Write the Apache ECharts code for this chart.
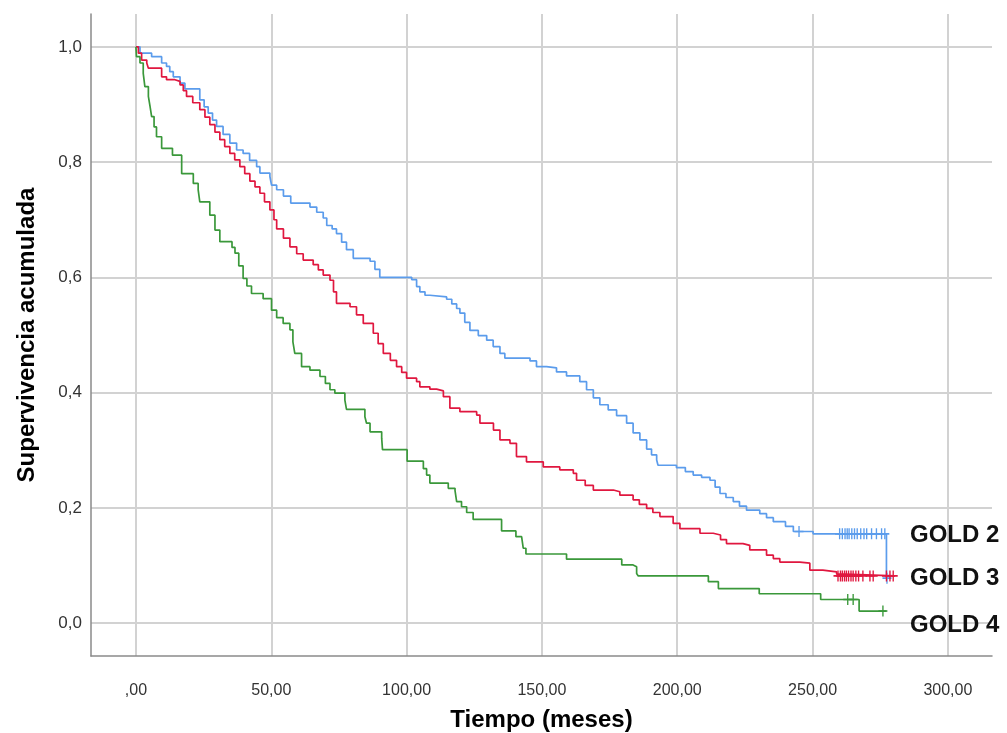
<!DOCTYPE html>
<html>
<head>
<meta charset="utf-8">
<script src="https://cdn.jsdelivr.net/npm/echarts@6/dist/echarts.min.js"></script>
<style>
html,body{margin:0;padding:0;background:#fff;}
#c{width:1007px;height:733px;}
</style>
</head>
<body>
<div id="c"></div>
<script>
// ---- data (time in months, cumulative survival) ----
const groupNames = ['GOLD 2', 'GOLD 3', 'GOLD 4'];
const xTicks = [0, 50, 100, 150, 200, 250, 300];
const yTicks = [0, 0.2, 0.4, 0.6, 0.8, 1.0];

const gold2 = [[0,1.0],[1.5,0.989],[5.8,0.983],[9.5,0.972],[11.3,0.966],[12.5,0.957],[13.8,0.948],[16.3,0.937],[18.1,0.927],[23.6,0.908],[25.2,0.896],[26.7,0.885],[28.3,0.873],[29.8,0.862],[32.2,0.848],[34.7,0.833],[37.2,0.821],[39.6,0.815],[42,0.803],[44.6,0.792],[45.8,0.781],[49.5,0.775],[50.1,0.760],[52,0.752],[54.5,0.741],[57.2,0.729],[64.3,0.722],[66.8,0.713],[69.2,0.703],[70.5,0.690],[72.5,0.684],[74.1,0.676],[76,0.661],[77.8,0.648],[80.3,0.633],[86.5,0.628],[88.3,0.614],[90.1,0.600],[101.9,0.596],[103.7,0.584],[104.9,0.575],[106.8,0.569],[108.6,0.566],[114.8,0.562],[116.7,0.554],[118.5,0.546],[119.7,0.538],[121.5,0.522],[123.4,0.508],[126.5,0.499],[129.6,0.491],[132,0.480],[134.5,0.468],[136.3,0.460],[145.6,0.455],[148,0.445],[151.7,0.443],[155.4,0.436],[159.1,0.429],[164,0.419],[166.5,0.405],[169,0.391],[171.4,0.379],[174.5,0.370],[177.6,0.360],[181.3,0.347],[183.7,0.330],[186.2,0.318],[188.7,0.302],[190.5,0.292],[192.4,0.283],[192.9,0.274],[199.7,0.270],[203,0.263],[205.9,0.257],[209,0.253],[212.1,0.248],[214,0.236],[215.8,0.225],[218,0.218],[220.7,0.211],[223,0.203],[225.6,0.196],[230.5,0.190],[233,0.183],[235.5,0.176],[240,0.168],[242.9,0.159],[250.2,0.155],[277.3,0.078]];

const gold3 = [[0,1.0],[0.9,0.989],[2.1,0.977],[4,0.972],[4.6,0.963],[9.5,0.948],[11.3,0.943],[14.4,0.940],[16.3,0.934],[17.5,0.924],[18.7,0.914],[21,0.903],[23.6,0.891],[25.5,0.878],[27.3,0.865],[29.2,0.852],[31,0.839],[32.8,0.827],[34.7,0.815],[36.5,0.804],[38.4,0.792],[40.2,0.780],[42.1,0.767],[44,0.757],[45.8,0.746],[47.5,0.731],[49.5,0.717],[51,0.700],[52,0.684],[54.5,0.668],[56.9,0.653],[59.4,0.641],[61.8,0.630],[65.5,0.622],[67.4,0.613],[69.2,0.604],[71.7,0.595],[73,0.575],[74.1,0.555],[79.1,0.549],[81.5,0.535],[84,0.520],[87.7,0.503],[89.5,0.485],[91.4,0.468],[94,0.456],[96.3,0.445],[98.2,0.435],[100,0.425],[103.7,0.419],[104.9,0.410],[108.6,0.406],[111.1,0.403],[113.6,0.393],[116,0.373],[119.7,0.367],[125.9,0.361],[127.1,0.347],[132.1,0.335],[134.5,0.318],[138.2,0.312],[140.6,0.289],[144.3,0.280],[150.5,0.271],[156.6,0.266],[161.6,0.260],[162.8,0.248],[166,0.239],[169,0.231],[176.4,0.228],[178.8,0.222],[183.7,0.214],[186,0.206],[188.7,0.199],[191,0.192],[193.6,0.185],[198.5,0.173],[201,0.164],[208.4,0.156],[213.3,0.153],[216,0.145],[218.2,0.138],[224.3,0.135],[226.8,0.127],[233,0.118],[235.5,0.112],[237.9,0.106],[245.3,0.104],[249,0.092],[253.8,0.089],[258.9,0.085],[262,0.082],[280.4,0.082]];

const gold4 = [[0,1.0],[0.2,0.983],[1.5,0.972],[2.7,0.954],[3.3,0.931],[4.6,0.914],[5.2,0.897],[5.8,0.879],[6.7,0.861],[7.6,0.844],[9.5,0.824],[13.5,0.812],[16.9,0.780],[21.2,0.763],[23,0.752],[23.6,0.731],[27.3,0.708],[29.2,0.682],[31,0.662],[35.5,0.652],[36.6,0.642],[38,0.620],[39.6,0.598],[41,0.585],[42.7,0.572],[47,0.563],[50.1,0.543],[52,0.530],[54.4,0.520],[56.9,0.509],[58,0.488],[58.7,0.468],[61.2,0.445],[64.3,0.439],[68,0.428],[70,0.416],[71.7,0.405],[73.5,0.399],[77.2,0.387],[77.8,0.371],[84.6,0.358],[85.2,0.347],[86.5,0.332],[90.8,0.321],[91.1,0.301],[100.2,0.281],[106.2,0.268],[107.4,0.257],[108.6,0.243],[115.4,0.234],[117.9,0.230],[118.5,0.211],[120.3,0.202],[122.2,0.192],[124.6,0.180],[135.1,0.160],[140.4,0.150],[142.5,0.147],[143.1,0.130],[144.1,0.120],[159.1,0.111],[179.5,0.101],[183.7,0.098],[185,0.086],[185.6,0.082],[211.5,0.072],[215.2,0.060],[230.3,0.051],[253,0.041],[267.2,0.021],[277.3,0.021]];

// censored observations
const cens2 = [[245,0.159],[260,0.155],[261,0.155],[262,0.155],[262.8,0.155],[263.5,0.155],[264.5,0.155],[265.5,0.155],[266.5,0.155],[267.8,0.155],[269,0.155],[270,0.155],[271.8,0.155],[273.6,0.155],[275.5,0.155],[276.7,0.155],[277.5,0.078]];
const cens3 = [[259.4,0.082],[260.3,0.082],[261,0.082],[261.8,0.082],[262.5,0.082],[263.3,0.082],[264.2,0.082],[265,0.082],[266,0.082],[267,0.082],[268.6,0.082],[271.2,0.082],[272.4,0.082],[277.3,0.082],[278.6,0.082],[279.8,0.082]];
const cens4 = [[263,0.041],[265,0.041],[276,0.021]];

// vertical anchor (survival value) used to place each end label
const labelAnchor = [0.155, 0.082, 0.0];

const colors = ['#5b9cec', '#e0173f', '#3a983a'];
const curves = [gold2, gold3, gold4];
const censored = [cens2, cens3, cens4];

const plusPath = 'path://M8.5,0H11.5V8.5H20V11.5H11.5V20H8.5V11.5H0V8.5H8.5Z';
const FONT = 'Liberation Sans, Arial, sans-serif';

const series = [];
curves.forEach((d, i) => {
  series.push({
    name: groupNames[i], type: 'line', step: 'end', data: d,
    showSymbol: false, symbol: 'none', silent: true,
    lineStyle: { color: colors[i], width: 1.7 }, z: 3 + i
  });
  series.push({
    name: groupNames[i] + ' cens', type: 'scatter', data: censored[i],
    symbol: plusPath, symbolSize: [9, 11], silent: true,
    itemStyle: { color: colors[i], opacity: 1 }, z: 6 + i
  });
});

const chart = echarts.init(document.getElementById('c'), null, { renderer: 'canvas' });
chart.setOption({
  animation: false,
  backgroundColor: '#ffffff',
  grid: { left: 91, right: 15, top: 14, bottom: 77, containLabel: false, outerBoundsMode: 'none' },
  xAxis: {
    type: 'value', min: -16.6, max: 316.3,
    name: 'Tiempo (meses)', nameLocation: 'middle', nameGap: 52,
    nameTextStyle: { fontFamily: FONT, fontWeight: 'bold', fontSize: 24, color: '#000' },
    axisLine: { show: true, onZero: false, lineStyle: { color: '#8a8a8a', width: 1.5 } },
    axisTick: { show: false, customValues: xTicks },
    axisLabel: {
      customValues: xTicks, margin: 27, fontSize: 16, color: '#333', fontFamily: FONT,
      formatter: v => v === 0 ? ',00' : v.toFixed(2).replace('.', ',')
    },
    splitLine: { show: true, lineStyle: { color: '#d2d2d2', width: 2 } }
  },
  yAxis: {
    type: 'value', min: -0.057, max: 1.057,
    name: 'Supervivencia acumulada', nameLocation: 'middle', nameGap: 52,
    nameTextStyle: { fontFamily: FONT, fontWeight: 'bold', fontSize: 24, color: '#000' },
    axisLine: { show: true, onZero: false, lineStyle: { color: '#8a8a8a', width: 1.5 } },
    axisTick: { show: false, customValues: yTicks },
    axisLabel: {
      customValues: yTicks, margin: 9, fontSize: 17, color: '#333', fontFamily: FONT,
      formatter: v => v.toFixed(1).replace('.', ',')
    },
    splitLine: { show: true, lineStyle: { color: '#d2d2d2', width: 2 } }
  },
  series: series
});

const graphics = groupNames.map((n, i) => {
  const p = chart.convertToPixel({ gridIndex: 0 }, [0, labelAnchor[i]]);
  return {
    type: 'text', left: 910, top: p[1] - 10, z: 100,
    style: { text: n, fontFamily: FONT, fontWeight: 'bold', fontSize: 24, fill: '#111' }
  };
});
chart.setOption({ graphic: graphics });
</script>
</body>
</html>
